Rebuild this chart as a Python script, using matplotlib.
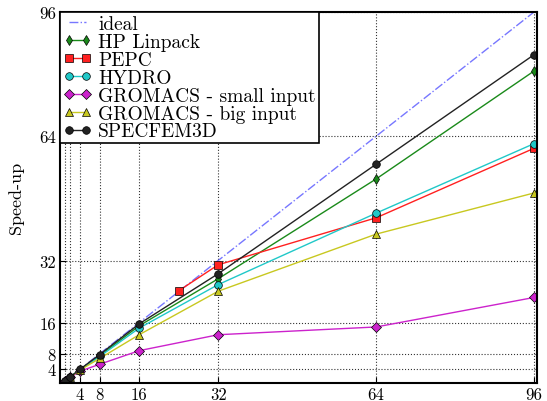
import matplotlib
matplotlib.use('Agg')
import matplotlib.pyplot as plt

# --- datos ---
cores = [1, 2, 4, 8, 16, 32, 64, 96]
ideal = [1, 2, 4, 8, 16, 32, 64, 96]
hp_linpack = [1, 2, 3.9, 7.5, 15.2, 27.3, 53.0, 80.8]
pepc_cores = [24, 32, 64, 96]
pepc = [24.2, 30.9, 43.0, 60.9]
hydro = [1, 2, 3.9, 7.3, 14.6, 25.8, 44.2, 62.1]
gromacs_small = [1, 1.9, 3.5, 5.3, 8.8, 12.9, 14.9, 22.5]
gromacs_big = [1, 2, 3.8, 6.8, 12.9, 24.1, 38.8, 49.4]
specfem3d = [1, 2, 4, 7.8, 15.7, 28.6, 56.8, 85.0]

x_ticks = [1, 2, 4, 8, 16, 32, 64, 96]
x_labels = ['', '', '4', '8', '16', '32', '64', '96']
y_ticks = [4, 8, 16, 32, 64, 96]

plt.rcParams['font.family'] = 'serif'
plt.rcParams['font.serif'] = ['cmr10', 'DejaVu Serif']
plt.rcParams['axes.formatter.use_mathtext'] = True
plt.rcParams['font.size'] = 12

fig = plt.figure(figsize=(5.47, 4.02), dpi=100)
ax = fig.add_axes([0.110, 0.045, 0.872, 0.923])

mk = dict(markersize=5.5, markeredgecolor='k', markeredgewidth=0.5, linewidth=1)
ax.plot(ideal, ideal, linestyle='-.', color='#5555ff', linewidth=1, alpha=0.8, label='ideal')
ax.plot(cores, hp_linpack, marker='d', color='#1a8a1a', label='HP Linpack', **mk)
ax.plot(pepc_cores, pepc, marker='s', color='#ff2020', label='PEPC', **mk)
ax.plot(cores, hydro, marker='o', color='#20c8c8', label='HYDRO', **mk)
ax.plot(cores, gromacs_small, marker='D', color='#cc22cc', label='GROMACS - small input', **mk)
ax.plot(cores, gromacs_big, marker='^', color='#c8c820', label='GROMACS - big input', **mk)
ax.plot(cores, specfem3d, marker='o', color='#222222', label='SPECFEM3D', **mk)

ax.set_xlim(0, 96.6)
ax.set_ylim(0.5, 96)
ax.set_xticks(x_ticks)
ax.set_xticklabels(x_labels)
ax.set_yticks(y_ticks)
ax.set_yticklabels([str(v) for v in y_ticks])
ax.tick_params(direction='in', length=4, width=0.8, pad=3)
ax.grid(True, linestyle=':', color='k', linewidth=0.8, alpha=0.8)
for s in ax.spines.values():
    s.set_linewidth(1.5)

ax.set_ylabel('Speed-up', fontsize=13)
ax.yaxis.set_label_coords(-0.075, 0.5)

leg = ax.legend(loc='upper left', bbox_to_anchor=(0.0, 1.0), borderaxespad=0,
                fontsize=14, numpoints=2, handlelength=1.5, handletextpad=0.3,
                labelspacing=0.0, borderpad=0.15, fancybox=False, framealpha=1)
leg.get_frame().set_edgecolor('k')
leg.get_frame().set_linewidth(1.2)

fig.savefig('out.png', dpi=100)
